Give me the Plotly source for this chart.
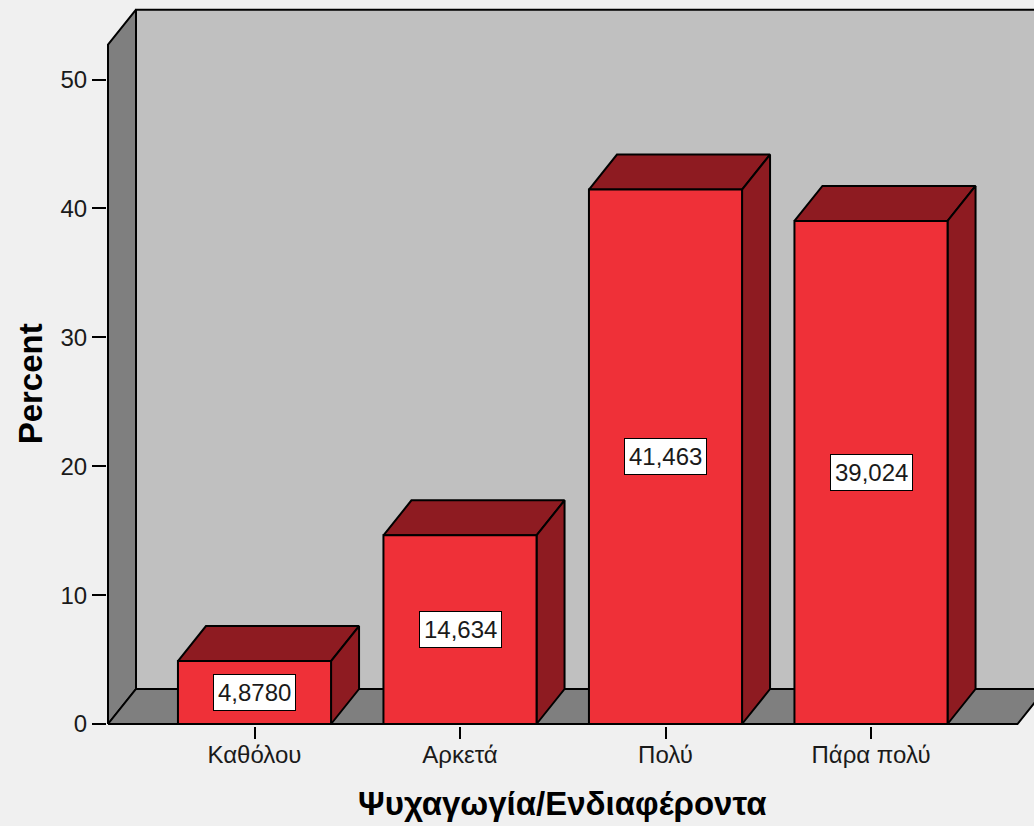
import plotly.graph_objects as go

# ---- data ----
categories = ["Καθόλου", "Αρκετά", "Πολύ", "Πάρα πολύ"]
percent = [4.8780, 14.634, 41.463, 39.024]
y_ticks = [0, 10, 20, 30, 40, 50]
x_title = "Ψυχαγωγία/Ενδιαφέροντα"
y_title = "Percent"

# ---- styling / geometry (pixels) ----
W, H = 1034, 826
PL, PR, PT, PB = 107, 1034, 4, 726          # plot area in pixels
CAT0_PX, CAT_STEP_PX = 254.5, 205.5          # first category centre, spacing
Y0_PX, Y_UNIT_PX = 724, 12.89                # pixel of 0 %, pixels per 1 %
DEPTH_DX_PX, DEPTH_DY_PX = 28, 35            # 3-D depth offset
BAR_W = 0.745                                # bar width (category units)
WALL_SIDE = 0.7129                           # wall margin beside outer bars (category units)
WALL_TOP = 52.7                              # value height of the walls (front edge)

FRONT = "#ef3038"
DARK = "#8e1b21"
BACK_WALL = "#c0c0c0"
SIDE_GRAY = "#7f7f7f"
BG = "#f0f0f0"
FONT = "Liberation Sans, Arial, sans-serif"
TICK_SIZE = 24
TITLE_SIZE = 33

x_range = [(PL - CAT0_PX) / CAT_STEP_PX, (PR - CAT0_PX) / CAT_STEP_PX]
y_range = [(Y0_PX - PB) / Y_UNIT_PX, (Y0_PX - PT) / Y_UNIT_PX]
dx = DEPTH_DX_PX / CAT_STEP_PX
dy = DEPTH_DY_PX / Y_UNIT_PX

n = len(categories)
xl = -WALL_SIDE
xr = (n - 1) + WALL_SIDE

fig = go.Figure()


def face(xs, ys, color):
    fig.add_trace(go.Scatter(
        x=list(xs) + [xs[0]], y=list(ys) + [ys[0]],
        mode="lines", fill="toself", fillcolor=color,
        line=dict(color="black", width=2),
        hoverinfo="skip", showlegend=False))


# walls
far_right = xr + dx + 1
face([xl + dx, far_right, far_right, xl + dx], [dy, dy, WALL_TOP + dy, WALL_TOP + dy], BACK_WALL)
face([xl, xl + dx, xl + dx, xl], [0, dy, WALL_TOP + dy, WALL_TOP], SIDE_GRAY)
face([xl, xr, xr + dx, xl + dx], [0, 0, dy, dy], SIDE_GRAY)

# bars
for i, v in enumerate(percent):
    a, b = i - BAR_W / 2, i + BAR_W / 2
    face([a, b, b + dx, a + dx], [v, v, v + dy, v + dy], DARK)          # top
    face([b, b + dx, b + dx, b], [0, dy, v + dy, v], DARK)              # side
    face([a, b, b, a], [0, 0, v, v], FRONT)                              # front

# value labels
for i, v in enumerate(percent):
    fig.add_annotation(
        x=i, y=v / 2, xref="x", yref="y",
        text=f"{v:#.5g}".replace(".", ","),
        showarrow=False, bgcolor="white", bordercolor="black",
        borderwidth=1, borderpad=4,
        font=dict(family=FONT, size=TICK_SIZE, color="#1a1a1a"))

# axis titles
fig.add_annotation(
    x=(n - 1) / 2, y=0, xref="x", yref="y", yshift=-79,
    text=f"<b>{x_title}</b>", showarrow=False, yanchor="middle",
    font=dict(family=FONT, size=TITLE_SIZE, color="black"))
fig.add_annotation(
    x=0, y=WALL_TOP / 2, xref="paper", yref="y", xshift=30 - PL,
    text=f"<b>{y_title}</b>", textangle=-90, showarrow=False,
    xanchor="center", yanchor="middle",
    font=dict(family=FONT, size=TITLE_SIZE, color="black"))

fig.update_layout(
    width=W, height=H, template="none",
    margin=dict(l=PL, r=W - PR, t=PT, b=H - PB, pad=0),
    paper_bgcolor=BG, plot_bgcolor=BG, showlegend=False,
    font=dict(family=FONT, color="#1a1a1a"),
)
fig.update_xaxes(
    range=x_range, tickmode="array", tickvals=list(range(n)), ticktext=categories,
    ticks="outside", ticklen=12, tickwidth=2, tickcolor="black",
    ticklabelstandoff=-5,
    showgrid=False, zeroline=False, showline=False, automargin=False,
    tickfont=dict(family=FONT, size=TICK_SIZE, color="#1a1a1a"), fixedrange=True)
fig.update_yaxes(
    range=y_range, tickmode="array", tickvals=y_ticks,
    ticks="outside", ticklen=14, tickwidth=2, tickcolor="black",
    showgrid=False, zeroline=False, showline=False, automargin=False,
    tickfont=dict(family=FONT, size=TICK_SIZE, color="#1a1a1a"), fixedrange=True)

fig.write_html(
    "out.html",
    config={"displayModeBar": False},
    post_script="document.body.style.margin='0';document.body.style.overflow='hidden';"
                "document.body.style.background='#f0f0f0';",
)
